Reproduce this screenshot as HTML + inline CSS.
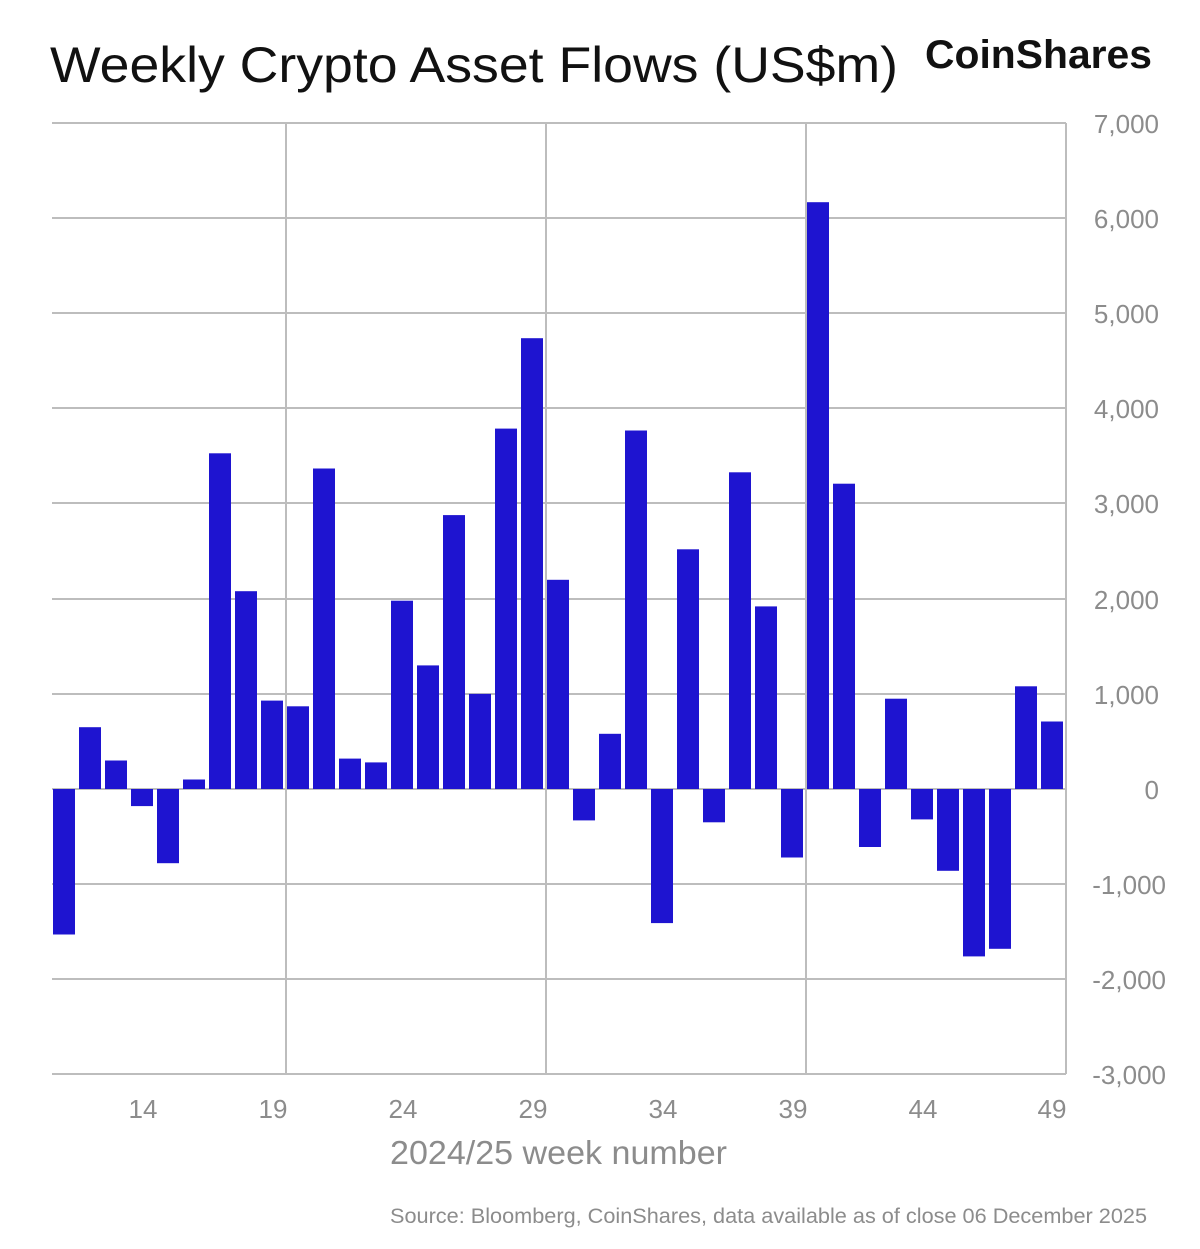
<!DOCTYPE html>
<html><head><meta charset="utf-8"><style>
body{margin:0;background:#fff;}
svg text{font-family:"Liberation Sans",sans-serif;}
</style></head><body>
<svg width="1200" height="1244" xmlns="http://www.w3.org/2000/svg">
<rect width="1200" height="1244" fill="#fff"/>
<text x="50" y="82" font-size="50" fill="#111" textLength="848" lengthAdjust="spacingAndGlyphs">Weekly Crypto Asset Flows (US$m)</text>
<text x="925" y="68" font-size="40" font-weight="bold" fill="#111" textLength="227" lengthAdjust="spacingAndGlyphs">CoinShares</text>
<g stroke="#bdbdbd" stroke-width="2">
<line x1="52" y1="123" x2="1066" y2="123"/><line x1="52" y1="218" x2="1066" y2="218"/>
<line x1="52" y1="313" x2="1066" y2="313"/><line x1="52" y1="408" x2="1066" y2="408"/>
<line x1="52" y1="503" x2="1066" y2="503"/><line x1="52" y1="599" x2="1066" y2="599"/>
<line x1="52" y1="694" x2="1066" y2="694"/><line x1="52" y1="789" x2="1066" y2="789"/>
<line x1="52" y1="884" x2="1066" y2="884"/><line x1="52" y1="979" x2="1066" y2="979"/>
<line x1="52" y1="1074" x2="1066" y2="1074"/>
<line x1="286" y1="123" x2="286" y2="1074"/><line x1="546" y1="123" x2="546" y2="1074"/>
<line x1="806" y1="123" x2="806" y2="1074"/><line x1="1066" y1="123" x2="1066" y2="1074"/>
</g>
<g fill="#1e14d0">
<rect x="53" y="789" width="22" height="145.5"/>
<rect x="79" y="727.2" width="22" height="61.8"/>
<rect x="105" y="760.5" width="22" height="28.5"/>
<rect x="131" y="789" width="22" height="17.1"/>
<rect x="157" y="789" width="22" height="74.2"/>
<rect x="183" y="779.5" width="22" height="9.5"/>
<rect x="209" y="453.3" width="22" height="335.7"/>
<rect x="235" y="591.2" width="22" height="197.8"/>
<rect x="261" y="700.6" width="22" height="88.4"/>
<rect x="287" y="706.3" width="22" height="82.7"/>
<rect x="313" y="468.5" width="22" height="320.5"/>
<rect x="339" y="758.6" width="22" height="30.4"/>
<rect x="365" y="762.4" width="22" height="26.6"/>
<rect x="391" y="600.7" width="22" height="188.3"/>
<rect x="417" y="665.4" width="22" height="123.6"/>
<rect x="443" y="515.1" width="22" height="273.9"/>
<rect x="469" y="693.9" width="22" height="95.1"/>
<rect x="495" y="428.6" width="22" height="360.4"/>
<rect x="521" y="338.2" width="22" height="450.8"/>
<rect x="547" y="579.8" width="22" height="209.2"/>
<rect x="573" y="789" width="22" height="31.4"/>
<rect x="599" y="733.8" width="22" height="55.2"/>
<rect x="625" y="430.5" width="22" height="358.5"/>
<rect x="651" y="789" width="22" height="134.1"/>
<rect x="677" y="549.3" width="22" height="239.7"/>
<rect x="703" y="789" width="22" height="33.3"/>
<rect x="729" y="472.3" width="22" height="316.7"/>
<rect x="755" y="606.4" width="22" height="182.6"/>
<rect x="781" y="789" width="22" height="68.5"/>
<rect x="807" y="202.2" width="22" height="586.8"/>
<rect x="833" y="483.7" width="22" height="305.3"/>
<rect x="859" y="789" width="22" height="58"/>
<rect x="885" y="698.7" width="22" height="90.3"/>
<rect x="911" y="789" width="22" height="30.4"/>
<rect x="937" y="789" width="22" height="81.8"/>
<rect x="963" y="789" width="22" height="167.4"/>
<rect x="989" y="789" width="22" height="159.8"/>
<rect x="1015" y="686.3" width="22" height="102.7"/>
<rect x="1041" y="721.5" width="22" height="67.5"/>
</g>
<g font-size="26" fill="#8c8c8c" text-anchor="end">
<text x="1159" y="133">7,000</text><text x="1159" y="228">6,000</text>
<text x="1159" y="323">5,000</text><text x="1159" y="418">4,000</text>
<text x="1159" y="513">3,000</text><text x="1159" y="609">2,000</text>
<text x="1159" y="704">1,000</text><text x="1159" y="799">0</text>
<text x="1166" y="894">-1,000</text><text x="1166" y="989">-2,000</text>
<text x="1166" y="1084">-3,000</text>
</g>
<g font-size="26" fill="#8c8c8c" text-anchor="middle">
<text x="143" y="1118">14</text><text x="273" y="1118">19</text>
<text x="403" y="1118">24</text><text x="533" y="1118">29</text>
<text x="663" y="1118">34</text><text x="793" y="1118">39</text>
<text x="923" y="1118">44</text><text x="1052" y="1118">49</text>
</g>
<text x="390" y="1164" font-size="33" fill="#8c8c8c" textLength="337" lengthAdjust="spacingAndGlyphs">2024/25 week number</text>
<text x="390" y="1223" font-size="21" fill="#8c8c8c" textLength="757" lengthAdjust="spacingAndGlyphs">Source: Bloomberg, CoinShares, data available as of close 06 December 2025</text>
</svg>
</body></html>
